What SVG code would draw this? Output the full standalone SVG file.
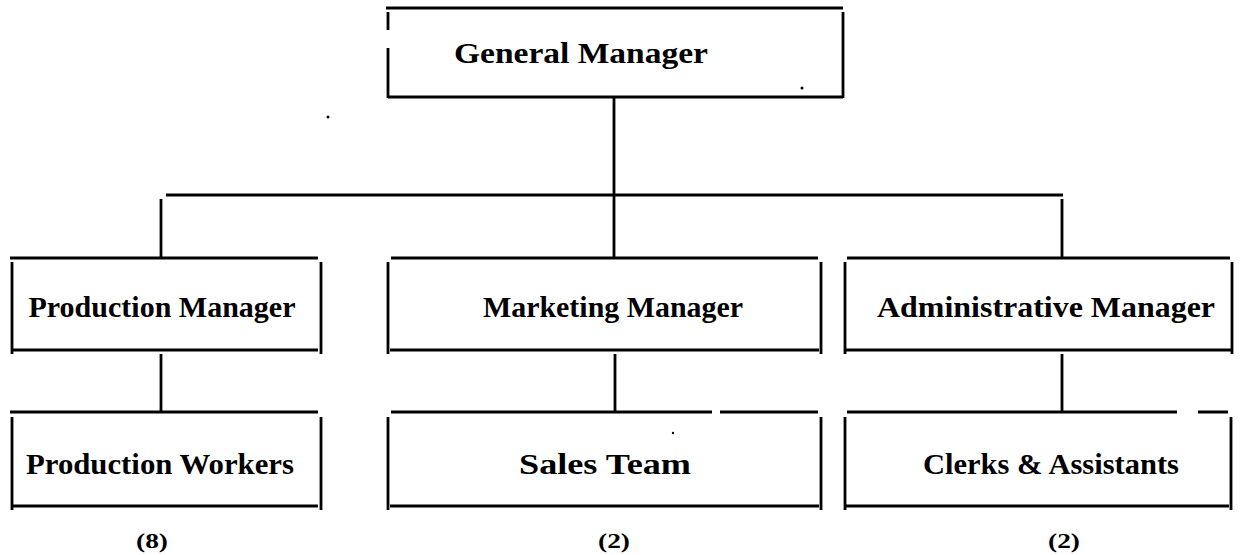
<svg xmlns="http://www.w3.org/2000/svg" width="1240" height="555" viewBox="0 0 1240 555">
  <style>
    .edge { stroke: #000; stroke-width: 2.8; fill: none; stroke-linecap: butt; }
    .link { stroke: #000; stroke-width: 2.8; fill: none; }
    .label { font-family: "Liberation Serif", "Times New Roman", serif; font-weight: bold; font-size: 30px; fill: #000; text-anchor: middle; dominant-baseline: central; }
    .count { font-family: "Liberation Serif", "Times New Roman", serif; font-weight: bold; font-size: 22px; fill: #000; text-anchor: middle; }
    .speck { fill: #000; }
  </style>
  <rect width="1240" height="555" fill="#fff"/>

  <!-- connectors -->
  <g id="connectors">
    <line class="link" x1="614" y1="97" x2="614" y2="195"/>
    <line class="link" x1="166" y1="195" x2="1063" y2="195"/>
    <line class="link" x1="161" y1="199" x2="161" y2="258"/>
    <line class="link" x1="614" y1="195" x2="614" y2="258"/>
    <line class="link" x1="1062" y1="199" x2="1062" y2="258"/>
    <line class="link" x1="161" y1="354" x2="161" y2="412"/>
    <line class="link" x1="615" y1="354" x2="615" y2="412"/>
    <line class="link" x1="1062" y1="354" x2="1062" y2="412"/>
  </g>

  <!-- General Manager -->
  <g id="general-manager">
    <path class="edge" d="M386 8 H843 M388 12 V30 M388 48 V98 M843 12 V98 M388 97 H843"/>
    <text class="label" x="581" y="52" textLength="254" lengthAdjust="spacingAndGlyphs">General Manager</text>
    <circle class="speck" cx="802" cy="88" r="1.5"/>
  </g>
  <circle class="speck" cx="328" cy="117" r="1.5"/>

  <!-- Production Manager -->
  <g id="production-manager">
    <path class="edge" d="M10 258 H318 M12 262 V354 M321 262 V354 M12 350 H318"/>
    <text class="label" x="162" y="306" textLength="267" lengthAdjust="spacingAndGlyphs">Production Manager</text>
  </g>

  <!-- Marketing Manager -->
  <g id="marketing-manager">
    <path class="edge" d="M391 258 H818 M388 262 V354 M821 262 V354 M390 350 H819"/>
    <text class="label" x="613" y="306" textLength="260" lengthAdjust="spacingAndGlyphs">Marketing Manager</text>
  </g>

  <!-- Administrative Manager -->
  <g id="administrative-manager">
    <path class="edge" d="M847 258 H1230 M845 262 V354 M1232 262 V354 M846 350 H1231"/>
    <text class="label" x="1046" y="306" textLength="338" lengthAdjust="spacingAndGlyphs">Administrative Manager</text>
  </g>

  <!-- Production Workers -->
  <g id="production-workers">
    <path class="edge" d="M10 412 H318 M12 417 V510 M321 417 V510 M12 506 H318"/>
    <text class="label" x="160" y="463" textLength="268" lengthAdjust="spacingAndGlyphs">Production Workers</text>
    <text class="count" x="152" y="548" textLength="32" lengthAdjust="spacingAndGlyphs">(8)</text>
  </g>

  <!-- Sales Team -->
  <g id="sales-team">
    <path class="edge" d="M391 412 H712 M720 412 H818 M388 417 V510 M821 417 V510 M390 506 H819"/>
    <text class="label" x="605" y="463" textLength="172" lengthAdjust="spacingAndGlyphs">Sales Team</text>
    <circle class="speck" cx="673" cy="433" r="1.2"/>
    <text class="count" x="614" y="548" textLength="32" lengthAdjust="spacingAndGlyphs">(2)</text>
  </g>

  <!-- Clerks & Assistants -->
  <g id="clerks-assistants">
    <path class="edge" d="M847 412 H1177 M1198 412 H1228 M845 417 V510 M1231 417 V510 M846 506 H1229"/>
    <text class="label" x="1051" y="463" textLength="256" lengthAdjust="spacingAndGlyphs">Clerks &amp; Assistants</text>
    <text class="count" x="1064" y="548" textLength="32" lengthAdjust="spacingAndGlyphs">(2)</text>
  </g>
</svg>
